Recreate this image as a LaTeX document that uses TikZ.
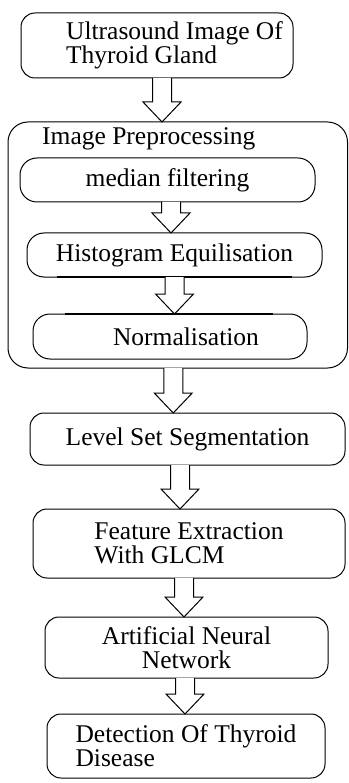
\documentclass[tikz,border=0pt]{standalone}
\usepackage{fontspec}
\setmainfont{Liberation Serif}
\usetikzlibrary{calc}

\tikzset{
	stage/.style={draw,line width=1pt,rounded corners=14pt,inner sep=0pt,outer sep=0pt,
		font=\fontsize{25.5}{24}\selectfont},
	substage/.style={stage,rounded corners=17pt},
	group/.style={draw,line width=1pt,rounded corners=20pt,inner sep=0pt,outer sep=0pt},
	flowarrow/.style={draw,line width=1pt,fill=white,line join=miter},
}

% hollow block arrow from the bottom of #2 to the top of #3, shifted by #1
\newcommand{\flowarrow}[3][0]{%
	\draw[flowarrow] let \p1=($(#2.south)+(#1,0)$), \p2=(#3.north) in
		(\x1-9.5pt,\y1) -- (\x1-9.5pt,\y2+20pt) -- (\x1-19pt,\y2+20pt) -- (\x1,\y2)
		-- (\x1+19pt,\y2+20pt) -- (\x1+9.5pt,\y2+20pt) -- (\x1+9.5pt,\y1);}

\begin{document}
\begin{tikzpicture}[x=1pt,y=-1pt]
				\useasboundingbox (0,0) rectangle (348,783);
				\node[group,minimum width=339.5,minimum height=246] (prep) at (177.75,245) {};
				\node[anchor=base west,inner sep=0pt,font=\fontsize{25.5}{24}\selectfont] (preptitle) at (42,145) {Image Preprocessing};
				\node[stage,minimum width=272,minimum height=65,align=left] (us) at (157,45.5)
					{\hspace*{35pt}Ultrasound Image Of\\\hspace*{35pt}Thyroid Gland};
				\node[substage,minimum width=295,minimum height=44] (median) at (167.5,180) {median filtering};
				\node[substage,minimum width=295,minimum height=44] (hist) at (174.5,255) {Histogram Equilisation};
				\node[substage,minimum width=274,minimum height=45] (norm) at (170,336.5) {\hspace*{32pt}Normalisation};
				\node[stage,minimum width=315,minimum height=52] (level) at (187.5,439) {Level Set Segmentation};
				\node[stage,minimum width=312,minimum height=69,align=left] (feature) at (189,543.5)
					{Feature Extraction\\With GLCM};
				\node[stage,minimum width=283,minimum height=61,align=center] (ann) at (186.5,647.5)
					{Artificial Neural\\Network};
				\node[stage,minimum width=278,minimum height=64,align=left] (detect) at (186,746)
					{Detection Of Thyroid\\Disease};
				% heavier edge segments
				\draw[line width=2.2pt] ($(hist.south)+(-117.5,0)$) -- ($(hist.south)+(117.5,0)$);
				\draw[line width=2.2pt] ($(norm.north)+(-105,0)$) -- ($(norm.north)+(103,0)$);
				\flowarrow[5]{us}{prep}
				\flowarrow[3.5]{median}{hist}
				\flowarrow{hist}{norm}
				\flowarrow[-4.5]{prep}{level}
				\flowarrow[-7.5]{level}{feature}
				\flowarrow[-5]{feature}{ann}
				\flowarrow[-1.5]{ann}{detect}
			\end{tikzpicture}
\end{document}
